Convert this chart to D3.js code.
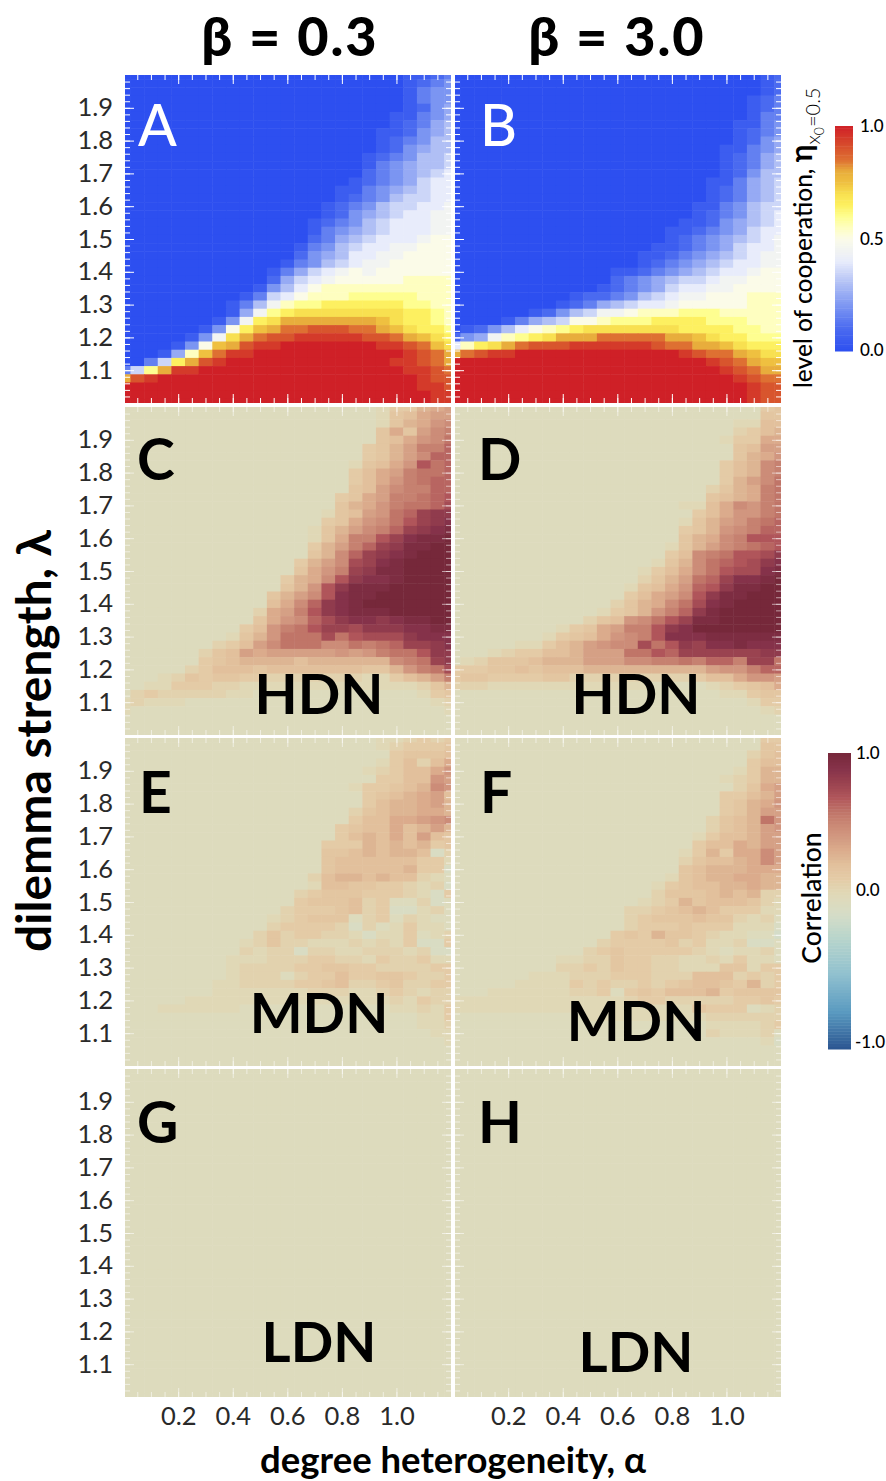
<!DOCTYPE html>
<meta charset="utf-8">
<style>
body { margin: 0; background: #fff; }
text { font-family: Lato, "DejaVu Sans", sans-serif; fill: #000; }
.tick-label text { font-size: 25.5px; font-weight: 400; fill: #2a2a2a; }
.panel-letter { font-size: 57px; font-weight: 700; }
.panel-letter.light { font-weight: 500; }
.net-label { font-size: 56px; font-weight: 700; }
.col-title { font-size: 54px; font-weight: 900; text-anchor: middle; letter-spacing: 2px; }
.axis-title { font-weight: 700; text-anchor: middle; }
.bar-label { font-size: 17px; font-weight: 500; }
</style>
<svg width="886" height="1481"></svg>
<script src="https://d3js.org/d3.v7.min.js"></script>
<script>

var alphaCols = [0, 0.05, 0.1, 0.15, 0.2, 0.25, 0.3, 0.35, 0.4, 0.45, 0.5, 0.55, 0.6, 0.65, 0.7, 0.75, 0.8, 0.85, 0.9, 0.95, 1, 1.05, 1.1, 1.15, 1.2];
var lambdaRows = [2, 1.975, 1.95, 1.925, 1.9, 1.875, 1.85, 1.825, 1.8, 1.775, 1.75, 1.725, 1.7, 1.675, 1.65, 1.625, 1.6, 1.575, 1.55, 1.525, 1.5, 1.475, 1.45, 1.425, 1.4, 1.375, 1.35, 1.325, 1.3, 1.275, 1.25, 1.225, 1.2, 1.175, 1.15, 1.125, 1.1, 1.075, 1.05, 1.025, 1];

var xTickLabels = [0.2, 0.4, 0.6, 0.8, 1.0];
var yTickLabels = [1.1, 1.2, 1.3, 1.4, 1.5, 1.6, 1.7, 1.8, 1.9];

// One character per cell, top row first. Cooperation: base-36 digit / 20.
var panelA = [
"00000 00000 00000 00000 01123","00000 00000 00000 00000 01234","00000 00000 00000 00000 01344","00000 00000 00000 00000 01344",
"00000 00000 00000 00000 01245","00000 00000 00000 00000 11345","00000 00000 00000 00000 12356","00000 00000 00000 00001 12456",
"00000 00000 00000 00001 23466","00000 00000 00000 00001 24566","00000 00000 00000 00012 34667","00000 00000 00000 00013 45667",
"00000 00000 00000 00023 45678","00000 00000 00000 00123 45788","00000 00000 00000 01134 56788","00000 00000 00000 01234 67788",
"00000 00000 00000 12346 77889","00000 00000 00000 12456 78899","00000 00000 00001 23467 88899","00000 00000 00001 34567 88899",
"00000 00000 00002 35678 889aa","00000 00000 00013 46788 99aaa","00000 00000 00024 56889 9aaaa","00000 00000 00134 67899 aaaaa",
"00000 00000 01357 89a9a aaaaa","00000 00000 02578 9aaaa abbbb","00000 00000 1468a bbbbb bbbbb","00000 00001 378ab bbccc ccbbb",
"00000 00013 69bcc ddddd dccbb","00000 00015 9cdee eeeee eddcb","00000 00149 deggg ggggf eddcb","00000 014ad fghhi iihhg feddc",
"00000 149eg hiijj jjjii hgfed","00001 4afgi jjkkk kkkkj jihfe","00015 bfhjj kkkkk kkkkk kjihg","0037d gijkk kkkkk kkkkk jjihg",
"37cgj jkkkk kkkkk kkkkk kjjih","gijkk kkkkk kkkkk kkkkk kkjii","kkkkk kkkkk kkkkk kkkkk kkjji","kkkkk kkkkk kkkkk kkkkk kkkjj",
"kkkkk kkkkk kkkkk kkkkk kkkjj"];

var panelB = [
"00000 00000 00000 00000 00012","00000 00000 00000 00000 00012","00000 00000 00000 00000 00012","00000 00000 00000 00000 00123",
"00000 00000 00000 00000 00123","00000 00000 00000 00000 00133","00000 00000 00000 00000 01134","00000 00000 00000 00000 01234",
"00000 00000 00000 00000 01245","00000 00000 00000 00000 11345","00000 00000 00000 00000 12356","00000 00000 00000 00000 12356",
"00000 00000 00000 00000 12466","00000 00000 00000 00001 13567","00000 00000 00000 00001 23567","00000 00000 00000 00001 23567",
"00000 00000 00000 00011 34677","00000 00000 00000 00012 34678","00000 00000 00000 00112 45678","00000 00000 00000 01123 45788",
"00000 00000 00000 01234 56789","00000 00000 00000 11234 57889","00000 00000 00001 12345 67899","00000 00000 00001 23456 78899",
"00000 00000 00112 34567 889aa","00000 00000 00234 56778 99aaa","00000 00000 01234 57889 9aaaa","00000 00001 22346 7899a aabbb",
"00000 00012 35678 89aaa aabbb","00000 01246 799ab bbccc bbbbb","00001 3567a abccc ddddc ccbbb","01246 8abcd eeeee eeddd dccbb",
"2459b cdegg ghhhh hggfe ddccc","8bdeg hiiij jjjjj ihhgg feddd","ghijj kkkkk kkkkk kkjih hgfee","kkkkk kkkkk kkkkk kkkkj ihgff",
"kkkkk kkkkk kkkkk kkkkk jihgg","kkkkk kkkkk kkkkk kkkkk kjihh","kkkkk kkkkk kkkkk kkkkk kkjii","kkkkk kkkkk kkkkk kkkkk kkjii",
"kkkkk kkkkk kkkkk kkkkk kkjii"];

// Correlation: base-36 digit / 20 - 0.1, so "2" is zero.
var panelC = [
"22222 22222 22222 22223 5589a","22222 22222 22222 22223 679aa","22222 22222 22222 22223 689bc","22222 22222 22222 22226 96acd",
"22222 22222 22222 22226 79bce","22222 22222 22222 22256 8addf","22222 22222 22222 22256 8acff","22222 22222 22222 22367 9bgef",
"22222 22222 22222 22579 adeef","22222 22222 22222 22579 bdeff","22222 22222 22222 2267a cddff","22222 22222 22222 2569a ddefg",
"22222 22222 22222 2689b deefh","22222 22222 22222 367ab efijj","22222 22222 22222 569bc egijk","22222 22222 22223 68acd fijkl",
"22222 22222 22223 69ddg ikllm","22222 22222 22225 8adfi jllmm","22222 22222 22226 8cfij klmmm","22222 22222 22258 achik lmmmm",
"22222 22222 22269 bdijl lmmmm","22222 22222 22589 cgjkk lmmmm","22222 22222 2268b gjlll mmmmm","22222 22222 268ac gkllm mmmmm",
"22222 22222 279cf jklmm mmmmm","22222 22222 49adg jklll mmmmm","22222 22222 69bcf hjkkj kllmm","22222 22225 7bdeg iihjj jkkll",
"22222 22236 8beee heghh hjkkk","22222 22457 aceee ccede fiijk","22222 2467a 9aaaa ababd eegjj","22222 25678 88878 88888 cdeij",
"22222 45777 67777 77766 8bdeh","22234 65665 54444 44433 578ad","22335 55443 33333 33333 33468","24544 44433 22222 22222 22356",
"34333 22222 22222 22222 22234","32222 22222 22222 22222 22223","22222 22222 22222 22222 22222","22222 22222 22222 22222 22222",
"22222 22222 22222 22222 22222"];

var panelD = [
"22222 22222 22222 22222 22256","22222 22222 22222 22222 22266","22222 22222 22222 22222 23377","22222 22222 22222 22222 24578",
"22222 22222 22222 22222 35599","22222 22222 22222 22222 267aa","22222 22222 22222 22222 2689b","22222 22222 22222 22222 578cd",
"22222 22222 22222 22222 578cd","22222 22222 22222 22222 58ace","22222 22222 22222 22224 689de","22222 22222 22222 22226 789de",
"22222 22222 22222 22337 9cbde","22222 22222 22222 22257 9bbde","22222 22222 22222 22368 abdef","22222 22222 22222 22568 bcdff",
"22222 22222 22222 22689 cdggg","22222 22222 22222 2368a cdefg","22222 22222 22222 257cd egghj","22222 22222 22222 368ce fghjk",
"22222 22222 22223 579ce ghhkl","22222 22222 22224 68aef ikklm","22222 22222 22236 79bfg jllmm","22222 22222 22257 9acgj llmmm",
"22222 22222 22468 9cehk lmmmm","22222 22222 23568 bdfjl mmmmm","22222 22222 467bc egill mmmmm","22222 22235 69add gjkmm mmmmm",
"22222 22356 79bcd gkkkl lllll","22222 33578 abcch egjik klkkk","22234 55778 aaaee gfiii iiijj","23466 67888 aaacc ddedf fdiie",
"55566 76777 88888 8888a bbdff","56655 55664 44444 44457 79bba","44433 33333 33333 22223 45679","22222 22222 22222 22222 33566",
"22222 22222 22222 22222 22355","22222 22222 22222 22222 22234","22222 22222 22222 22222 22222","22222 22222 22222 22222 22222",
"22222 22222 22222 22222 22222"];

var panelE = [
"22222 22222 22222 22223 34545","22222 22222 22222 22223 45556","22222 22222 22222 22222 56667","22222 22222 22222 22223 57479",
"22222 22222 22222 22234 5779b","22222 22222 22222 22225 577ba","22222 22222 22222 22355 678cb","22222 22222 22222 22256 789a7",
"22222 22222 22222 22257 889a8","22222 22222 22222 22467 88998","22222 22222 22222 22577 99abc","22222 22222 22222 25677 978a8",
"22222 22222 22222 25787 97a76","22222 22222 22222 55587 87856","22222 22222 22222 66787 88714","22222 22222 22222 67777 77553",
"22222 22222 22222 67777 78551","22222 22222 22224 78878 77432","22222 22222 22223 77665 54341","22222 22222 22245 66655 54315",
"22222 22222 22256 66745 22412","22222 22222 22455 56745 11342","22222 22222 23456 66245 24322","22222 22222 24555 54142 35332",
"22222 22222 46455 44313 35234","22222 22223 46443 33434 35115","22222 22224 34414 43344 43411","22222 22233 34445 54435 44533",
"22222 22234 44455 66554 44455","22222 22234 44245 57556 65445","22222 22334 44455 67445 64455","22222 22333 33334 44334 54344",
"22222 33333 33333 33333 43544","22233 33332 22222 22222 33435","22222 22222 22222 22222 22335","22222 22222 22222 22222 22334",
"22222 22222 22222 22222 22233","22222 22222 22222 22222 22223","22222 22222 22222 22222 22222","22222 22222 22222 22222 22222",
"22222 22222 22222 22222 22222"];

var panelF = [
"22222 22222 22222 22222 22255","22222 22222 22222 22222 22266","22222 22222 22222 22222 22467","22222 22222 22222 22222 22577",
"22222 22222 22222 22222 23588","22222 22222 22222 22222 34588","22222 22222 22222 22222 2469a","22222 22222 22222 22222 5578a",
"22222 22222 22222 22222 5689b","22222 22222 22222 22222 568aa","22222 22222 22222 22224 678eb","22222 22222 22222 22224 678ab",
"22222 22222 22222 22235 778aa","22222 22222 22222 22257 798aa","22222 22222 22222 22358 599ca","22222 22222 22222 22467 789ca",
"22222 22222 22222 22678 88999","22222 22222 22222 23678 89988","22222 22222 22222 35677 88988","22222 22222 22222 46667 87844",
"22222 22222 22223 45867 77643","22222 22222 22244 56787 55533","22222 22222 22245 66676 64342","22222 22222 22245 55655 53331",
"22222 22222 22565 86654 33220","22222 22222 24555 56453 34112","22222 22222 45655 55543 23342","22222 22233 44655 44334 35332",
"22222 22244 54655 44333 66355","22222 23334 44555 44477 74545","22222 33335 45445 45677 65845","22233 33334 45256 57778 56666",
"33333 33333 33345 54444 45565","33333 33333 33333 33365 55234","22222 22222 33333 33334 44444","22222 22222 22222 22223 33345",
"22222 22222 22222 22224 33342","22222 22222 22222 22222 22231","22222 22222 22222 22222 22222","22222 22222 22222 22222 22222",
"22222 22222 22222 22222 22222"];

var panelG = [
"22222 22222 22222 22222 22222","22222 22222 22222 22222 22222","22222 22222 22222 22222 22222","22222 22222 22222 22222 22222",
"22222 22222 22222 22222 22222","22222 22222 22222 22222 22222","22222 22222 22222 22222 22222","22222 22222 22222 22222 22222",
"22222 22222 22222 22222 22222","22222 22222 22222 22222 22222","22222 22222 22222 22222 22222","22222 22222 22222 22222 22222",
"22222 22222 22222 22222 22222","22222 22222 22222 22222 22222","22222 22222 22222 22222 22222","22222 22222 22222 22222 22222",
"22222 22222 22222 22222 22222","22222 22222 22222 22222 22222","22222 22222 22222 22222 22222","22222 22222 22222 22222 22222",
"22222 22222 22222 22222 22222","22222 22222 22222 22222 22222","22222 22222 22222 22222 22222","22222 22222 22222 22222 22222",
"22222 22222 22222 22222 22222","22222 22222 22222 22222 22222","22222 22222 22222 22222 22222","22222 22222 22222 22222 22222",
"22222 22222 22222 22222 22222","22222 22222 22222 22222 22222","22222 22222 22222 22222 22222","22222 22222 22222 22222 22222",
"22222 22222 22222 22222 22222","22222 22222 22222 22222 22222","22222 22222 22222 22222 22222","22222 22222 22222 22222 22222",
"22222 22222 22222 22222 22222","22222 22222 22222 22222 22222","22222 22222 22222 22222 22222","22222 22222 22222 22222 22222",
"22222 22222 22222 22222 22222"];

var panelH = panelG.slice();

var coopStops = [0, 0.1, 0.2, 0.3, 0.4, 0.5, 0.55, 0.6, 0.65, 0.7, 0.75, 0.8, 0.85, 0.9, 0.95, 1];
var coopColors = ["#2d4ff0", "#4a6af0", "#7b95f2", "#b0bff5", "#e8ecfb", "#fbfbe8", "#fefec0", "#fefe90", "#fdf060", "#f8e050", "#efc040", "#e8ad3c", "#de7032", "#d8552d", "#d43a2a", "#cf2027"];
var corrStops = [-1, -0.75, -0.5, -0.25, -0.1, 0, 0.05, 0.1, 0.15, 0.25, 0.3, 0.35, 0.4, 0.5, 0.6, 0.7, 0.8, 0.9, 1];
var corrColors = ["#2a5490", "#5a9ac0", "#8fc0cf", "#b8d5cc", "#d4dcc8", "#dddbbd", "#e0d8b6", "#e2d2ae", "#e4cba6", "#e2c09c", "#ddb593", "#dbab8c", "#d5a085", "#cc8c78", "#c07568", "#b0555a", "#9a4350", "#85324a", "#76283a"];

var coopColor = d3.scaleLinear().domain(coopStops).range(coopColors);
var corrColor = d3.scaleLinear().domain(corrStops).range(corrColors);

var panelW = 326, panelH_ = 328;
var colX = [125, 455], rowY = [75, 407, 738, 1069];

var panels = [
  {letter: "A", rows: panelA, c: 0, r: 0, kind: "coop", fill: "#fff", lx: 13, ly: 71},
  {letter: "B", rows: panelB, c: 1, r: 0, kind: "coop", fill: "#fff", lx: 25, ly: 71},
  {letter: "C", rows: panelC, c: 0, r: 1, kind: "corr", fill: "#000", lx: 12, ly: 73, net: "HDN", nx: 194, ny: 307},
  {letter: "D", rows: panelD, c: 1, r: 1, kind: "corr", fill: "#000", lx: 23, ly: 73, net: "HDN", nx: 181, ny: 307},
  {letter: "E", rows: panelE, c: 0, r: 2, kind: "corr", fill: "#000", lx: 14, ly: 75, net: "MDN", nx: 194, ny: 295},
  {letter: "F", rows: panelF, c: 1, r: 2, kind: "corr", fill: "#000", lx: 25, ly: 75, net: "MDN", nx: 181, ny: 303},
  {letter: "G", rows: panelG, c: 0, r: 3, kind: "corr", fill: "#000", lx: 12, ly: 74, net: "LDN", nx: 194, ny: 293},
  {letter: "H", rows: panelH, c: 1, r: 3, kind: "corr", fill: "#000", lx: 23, ly: 74, net: "LDN", nx: 181, ny: 303}
];

var svg = d3.select("svg");
var x = d3.scaleLinear().domain([0.005, 1.2]).range([0, panelW]);
var y = d3.scaleLinear().domain([1, 2]).range([panelH_, 0]);
var cellW = x(0.05) - x(0), cellH = y(1) - y(1.025);

var xMajor = d3.range(0.2, 1.21, 0.2);
var xMinor = d3.range(0.05, 1.2, 0.05);
var yMajor = d3.range(1.1, 1.95, 0.1);
var yMinor = d3.range(1.02, 2, 0.02);

var defs = svg.append("defs");
defs.append("clipPath").attr("id", "panel-clip")
  .append("rect").attr("width", panelW).attr("height", panelH_);
// the source is a soft raster, the cells run together a little
defs.append("filter").attr("id", "soft").attr("color-interpolation-filters", "sRGB")
  .append("feGaussianBlur").attr("stdDeviation", 0.7);

panels.forEach(function(p) {
  var g = svg.append("g").attr("transform", "translate(" + colX[p.c] + "," + rowY[p.r] + ")");
  var decode = p.kind == "coop"
    ? function(c) { return parseInt(c, 36) / 20; }
    : function(c) { return parseInt(c, 36) / 20 - 0.1; };
  var color = p.kind == "coop" ? coopColor : corrColor;

  var cells = p.rows.flatMap(function(row, r) {
    return Array.from(row.replace(/ /g, "")).map(function(ch, i) {
      return {alpha: alphaCols[i], lambda: lambdaRows[r], value: decode(ch)};
    });
  });

  g.append("g").attr("clip-path", "url(#panel-clip)")
    .append("g").attr("filter", "url(#soft)")
    .selectAll("rect").data(cells).join("rect")
      .attr("x", d => x(d.alpha) - cellW / 2)
      .attr("y", d => y(d.lambda) - cellH / 2)
      .attr("width", cellW + 0.5)
      .attr("height", cellH + 0.5)
      .attr("fill", d => color(d.value));

  // ticks point inward on all four sides
  var tickOpacity = p.kind == "coop" ? 1 : 0.55;
  function ticks(axis, values, size, tx, ty) {
    var a = g.append("g").attr("transform", "translate(" + tx + "," + ty + ")")
      .call(axis.tickValues(values).tickSize(size).tickFormat(""));
    a.select(".domain").remove();
    a.selectAll("line").attr("stroke", "#fff").attr("stroke-opacity", tickOpacity);
  }
  ticks(d3.axisTop(x), xMinor, -5, 0, 0);
  ticks(d3.axisTop(x), xMajor, -9, 0, 0);
  ticks(d3.axisBottom(x), xMinor, -5, 0, panelH_);
  ticks(d3.axisBottom(x), xMajor, -9, 0, panelH_);
  ticks(d3.axisLeft(y), yMinor, -5, 0, 0);
  ticks(d3.axisLeft(y), yMajor, -9, 0, 0);
  ticks(d3.axisRight(y), yMinor, -5, panelW, 0);
  ticks(d3.axisRight(y), yMajor, -9, panelW, 0);

  if (p.c == 0) {
    var yl = g.append("g").attr("class", "tick-label")
      .call(d3.axisLeft(y).tickValues(yTickLabels).tickSize(0).tickPadding(12).tickFormat(d3.format(".1f")));
    yl.select(".domain").remove();
  }
  if (p.r == 3) {
    var xl = g.append("g").attr("class", "tick-label").attr("transform", "translate(0," + panelH_ + ")")
      .call(d3.axisBottom(x).tickValues(xTickLabels).tickSize(0).tickPadding(10).tickFormat(d3.format(".1f")));
    xl.select(".domain").remove();
  }

  g.append("text").attr("class", "panel-letter" + (p.kind == "coop" ? " light" : ""))
    .attr("x", p.lx).attr("y", p.ly)
    .style("fill", p.fill).text(p.letter);
  if (p.net) {
    g.append("text").attr("class", "net-label").attr("x", p.nx).attr("y", p.ny)
      .attr("text-anchor", "middle").text(p.net);
  }
});

// column titles
var titles = [["\u03b2 = 0.3", 290], ["\u03b2 = 3.0", 617]];
titles.forEach(function(t) {
  svg.append("text").attr("class", "col-title").attr("x", t[1]).attr("y", 56).text(t[0]);
});

svg.append("text").attr("class", "axis-title").attr("transform", "translate(51,741) rotate(-90)")
  .style("font-size", "48px").text("dilemma strength, \u03bb");
svg.append("text").attr("class", "axis-title").attr("x", 453).attr("y", 1473)
  .style("font-size", "36.5px").text("degree heterogeneity, \u03b1");

// colour bars
function colorBar(bx, by, bw, bh, domain, color, labels) {
  var s = d3.scaleLinear().domain(domain).range([by + bh, by]);
  var steps = d3.range(0, 100).map(i => domain[0] + (domain[1] - domain[0]) * i / 100);
  var step = (domain[1] - domain[0]) / 100;
  svg.append("g").selectAll("rect").data(steps).join("rect")
    .attr("x", bx).attr("width", bw)
    .attr("y", d => s(d + step))
    .attr("height", bh / 100 + 0.5)
    .attr("fill", d => color(d + step / 2));
  svg.append("g").selectAll("text").data(labels).join("text")
    .attr("class", "bar-label")
    .attr("x", d => bx + bw + d.dx)
    .attr("y", d => d.y)
    .attr("dy", "0.35em")
    .text(d => d.text);
}
colorBar(835, 126, 18, 225, [0, 1], coopColor, [
  {text: "1.0", dx: 7, y: 126}, {text: "0.5", dx: 7, y: 239}, {text: "0.0", dx: 7, y: 350}]);
colorBar(828, 753, 23, 296, [-1, 1], corrColor, [
  {text: "1.0", dx: 5, y: 753}, {text: "0.0", dx: 5, y: 890}, {text: "-1.0", dx: 4, y: 1042}]);

var coopTitle = svg.append("text").attr("transform", "translate(812,388) rotate(-90)")
  .style("font-size", "24.5px").style("font-weight", 500);
coopTitle.append("tspan").text("level of cooperation, ");
coopTitle.append("tspan").style("font-weight", 700).style("font-size", "30px").text("\u03b7");
coopTitle.append("tspan").attr("dy", 8).style("font-size", "20px").style("font-weight", 300).text("x");
coopTitle.append("tspan").attr("dy", 4).style("font-size", "14px").style("font-weight", 300).text("0");
coopTitle.append("tspan").attr("dy", -4).style("font-size", "20px").style("font-weight", 300).text("=0.5");

svg.append("text").attr("transform", "translate(821,898) rotate(-90)")
  .attr("text-anchor", "middle").style("font-size", "26.5px").style("font-weight", 500).text("Correlation");

</script>
